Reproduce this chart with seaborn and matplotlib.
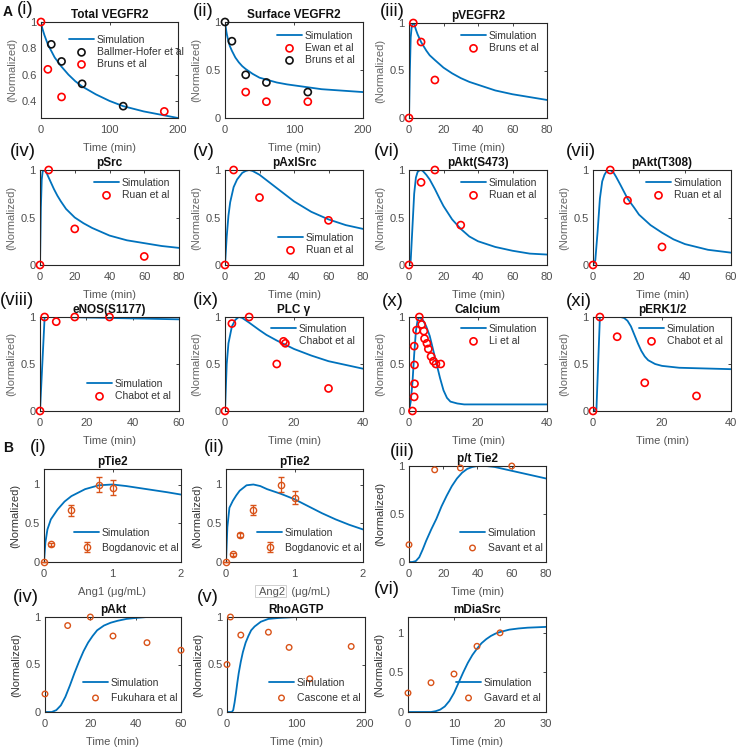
import matplotlib
matplotlib.use("Agg")
import matplotlib.pyplot as plt
import seaborn as sns
from matplotlib.patches import Rectangle
from matplotlib.ticker import FuncFormatter

# colours (MATLAB defaults)
BLUE = "#0072BD"
RED = "#FF0000"
BLACK = "#111111"
ORANGE = "#D95319"

# ---- data ----
# A(i) Total VEGFR2
tot_t = [0, 2, 5, 10, 15, 20, 30, 40, 50, 60, 80, 100, 120, 150, 180, 200]
tot_sim = [1, 0.95, 0.9, 0.83, 0.78, 0.73, 0.66, 0.6, 0.55, 0.51, 0.45, 0.4, 0.36, 0.32, 0.29, 0.27]
tot_bh_t = [15, 30, 60, 120]
tot_bh = [0.83, 0.70, 0.53, 0.36]
tot_br_t = [0, 10, 30, 180]
tot_br = [1.0, 0.64, 0.43, 0.32]

# A(ii) Surface VEGFR2
sur_t = [0, 1, 2, 3, 5, 7, 10, 15, 20, 25, 30, 40, 50, 60, 75, 90, 105, 120, 140, 160, 180, 200]
sur_sim = [1, 0.95, 0.9, 0.86, 0.8, 0.75, 0.7, 0.63, 0.58, 0.54, 0.51, 0.46, 0.42, 0.4, 0.37, 0.35,
           0.335, 0.32, 0.3, 0.29, 0.28, 0.27]
sur_ew_t = [30, 60, 120]
sur_ew = [0.27, 0.17, 0.17]
sur_br_t = [0, 10, 30, 60, 120]
sur_br = [1.0, 0.8, 0.45, 0.37, 0.27]

# A(iii) pVEGFR2
pv_t = [0, 0.5, 1, 1.5, 2, 2.5, 3, 4, 5, 7, 10, 12, 15, 20, 25, 30, 35, 40, 50, 60, 70, 80]
pv_sim = [0, 0.5, 0.85, 0.95, 0.99, 1, 0.99, 0.93, 0.88, 0.8, 0.71, 0.66, 0.61, 0.53, 0.47, 0.42,
          0.38, 0.35, 0.29, 0.25, 0.22, 0.19]
pv_d_t = [0, 2.5, 7, 15]
pv_d = [0, 1.0, 0.8, 0.4]

# A(iv) pSrc
src_t = [0, 0.5, 1, 1.5, 2, 3, 4, 5, 6, 8, 10, 12, 15, 20, 25, 30, 35, 40, 50, 60, 70, 80]
src_sim = [0, 0.6, 0.9, 0.98, 1, 0.99, 0.96, 0.92, 0.88, 0.8, 0.73, 0.67, 0.59, 0.5, 0.44, 0.39,
           0.35, 0.31, 0.26, 0.23, 0.2, 0.18]
src_d_t = [0, 5, 20, 60]
src_d = [0, 1.0, 0.38, 0.09]

# A(v) pAxlSrc
axl_t = [0, 1, 2, 3, 5, 7, 10, 12, 14, 16, 20, 25, 30, 35, 40, 50, 60, 70, 80]
axl_sim = [0, 0.3, 0.52, 0.66, 0.82, 0.9, 0.97, 0.99, 1, 0.99, 0.95, 0.88, 0.81, 0.74, 0.67, 0.56,
           0.48, 0.42, 0.38]
axl_d_t = [0, 5, 20, 60]
axl_d = [0, 1.0, 0.71, 0.47]

# A(vi) pAkt(S473)
s473_t = [0, 1, 2, 3, 4, 5, 6, 7, 8, 9, 10, 12, 15, 18, 20, 25, 30, 35, 40, 50, 60, 70, 80]
s473_sim = [0, 0.05, 0.4, 0.75, 0.92, 0.98, 0.995, 1, 0.99, 0.97, 0.95, 0.9, 0.8, 0.69, 0.62, 0.48,
            0.38, 0.3, 0.25, 0.19, 0.15, 0.12, 0.11]
s473_d_t = [0, 7, 15, 30]
s473_d = [0, 0.87, 1.0, 0.42]

# A(vii) pAkt(T308)
t308_t = [0, 1, 2, 3, 4, 5, 6, 7.5, 9, 10, 12, 15, 18, 20, 25, 30, 35, 40, 50, 60]
t308_sim = [0, 0.05, 0.35, 0.7, 0.88, 0.95, 0.99, 1, 0.97, 0.93, 0.84, 0.7, 0.6, 0.53, 0.42, 0.34,
            0.27, 0.22, 0.16, 0.13]
t308_d_t = [0, 7.5, 15, 30]
t308_d = [0, 1.0, 0.68, 0.19]

# A(viii) eNOS(S1177)
enos_t = [0, 1, 2, 5, 10, 20, 30, 40, 50, 60]
enos_sim = [0, 0.5, 1, 1, 1, 0.995, 0.99, 0.985, 0.98, 0.975]
enos_d_t = [0, 2, 7, 15, 30]
enos_d = [0, 1.0, 0.95, 1.0, 1.0]

# A(ix) PLCgamma
plc_t = [0, 0.5, 1, 2, 3, 4, 5, 7, 10, 12, 15, 20, 25, 30, 35, 40]
plc_sim = [0, 0.5, 0.72, 0.9, 0.97, 1, 0.99, 0.94, 0.86, 0.81, 0.75, 0.66, 0.59, 0.53, 0.49, 0.45]
plc_d_t = [0, 2, 7, 15, 17.5, 30]
plc_d = [0, 0.93, 1.0, 0.5, 0.72, 0.24]

# A(x) Calcium
ca_t = [0, 0.5, 1, 1.5, 2, 2.5, 3, 4, 5, 6, 7, 8, 9, 10, 11, 12, 14, 16, 20, 30, 40]
ca_sim = [0, 0.1, 0.3, 0.6, 0.85, 0.97, 1, 0.97, 0.9, 0.8, 0.65, 0.5, 0.35, 0.22, 0.14, 0.1, 0.08, 0.07,
          0.07, 0.07, 0.07]
ca_d_t = [1, 1.5, 1.6, 1.6, 1.5, 2.2, 3, 3.7, 4.3, 4.5, 5.2, 5.6, 6.4, 7.1, 7.8, 9.2]
ca_d = [0, 0.15, 0.29, 0.49, 0.69, 0.86, 1.0, 0.92, 0.85, 0.77, 0.72, 0.66, 0.58, 0.53, 0.5, 0.5]

# A(xi) pERK1/2
erk_t = [0, 1, 2, 4, 6, 8, 9, 10, 11, 12, 13, 14, 15, 16, 18, 20, 25, 30, 40]
erk_sim = [0, 0.02, 1, 1, 1, 1, 0.99, 0.96, 0.9, 0.81, 0.72, 0.64, 0.58, 0.54, 0.5, 0.48, 0.46, 0.455, 0.445]
erk_d_t = [0, 2, 7, 15, 30]
erk_d = [0, 1.0, 0.79, 0.3, 0.16]

# B(i) pTie2 vs Ang1
ang1_x = [0, 0.02, 0.05, 0.1, 0.2, 0.3, 0.4, 0.6, 0.8, 1.0, 1.2, 1.5, 1.8, 2.0]
ang1_sim = [0, 0.25, 0.42, 0.55, 0.68, 0.78, 0.85, 0.94, 0.99, 1.0, 0.98, 0.94, 0.9, 0.87]
ang1_d_x = [0, 0.1, 0.4, 0.8, 1.0]
ang1_d = [0, 0.23, 0.67, 1.0, 0.96]
ang1_err = [0, 0.02, 0.07, 0.1, 0.1]

# B(ii) pTie2 vs Ang2
ang2_x = [0, 0.02, 0.05, 0.1, 0.15, 0.2, 0.3, 0.4, 0.5, 0.6, 0.8, 1.0, 1.2, 1.4, 1.6, 1.8, 2.0]
ang2_sim = [0, 0.45, 0.7, 0.79, 0.86, 0.92, 0.99, 1.0, 0.98, 0.94, 0.88, 0.81, 0.72, 0.63, 0.55, 0.48, 0.42]
ang2_d_x = [0, 0.1, 0.2, 0.4, 0.8, 1.0]
ang2_d = [0, 0.1, 0.35, 0.67, 1.0, 0.83]
ang2_err = [0, 0.02, 0.03, 0.06, 0.1, 0.08]

# B(iii) p/t Tie2
pt_t = [0, 2, 4, 6, 8, 10, 13, 16, 19, 22, 25, 28, 31, 34, 37, 40, 45, 50, 60, 70, 80]
pt_sim = [0, 0, 0.01, 0.05, 0.13, 0.22, 0.34, 0.45, 0.58, 0.69, 0.79, 0.87, 0.93, 0.97, 0.99, 1.0,
          1.0, 0.99, 0.95, 0.91, 0.87]
pt_d_t = [0, 15, 30, 60]
pt_d = [0.18, 0.96, 0.98, 1.0]

# B(iv) pAkt
akt_t = [0, 3, 5, 7, 9, 11, 13, 15, 17, 19, 21, 23, 26, 29, 32, 36, 40, 45, 50, 60]
akt_sim = [0, 0, 0.02, 0.07, 0.16, 0.28, 0.41, 0.53, 0.64, 0.73, 0.8, 0.86, 0.91, 0.94, 0.96, 0.98,
           0.99, 1, 1, 1]
akt_d_t = [0, 10, 20, 30, 45, 60]
akt_d = [0.19, 0.91, 1.0, 0.8, 0.73, 0.65]

# B(v) RhoAGTP
rho_t = [0, 7, 9, 11, 13, 15, 17, 20, 23, 27, 31, 35, 40, 49, 60, 75, 100, 150, 200]
rho_sim = [0, 0, 0.02, 0.1, 0.2, 0.31, 0.41, 0.53, 0.63, 0.73, 0.8, 0.86, 0.9, 0.95, 0.98, 0.99, 1, 1, 1]
rho_d_t = [0, 5, 20, 60, 90, 120, 180]
rho_d = [0.5, 1.0, 0.81, 0.84, 0.68, 0.35, 0.69]

# B(vi) mDiaSrc
mdia_t = [0, 5, 6, 7, 8, 9, 10, 11, 12, 13, 14, 15, 16, 17, 18, 19, 20, 22, 24, 26, 28, 30]
mdia_sim = [0, 0, 0.01, 0.03, 0.07, 0.14, 0.24, 0.37, 0.5, 0.62, 0.72, 0.8, 0.87, 0.92, 0.96, 0.99,
            1.01, 1.04, 1.055, 1.065, 1.07, 1.075]
mdia_d_t = [0, 5, 10, 15, 20]
mdia_d = [0.24, 0.37, 0.48, 0.83, 1.0]

# ---- style ----
sns.set_theme(style="white")
plt.rcParams["font.family"] = ["Liberation Sans", "DejaVu Sans"]
plt.rcParams["axes.edgecolor"] = "#262626"
plt.rcParams["axes.linewidth"] = 0.8

W, H = 738, 749
fig = plt.figure(figsize=(W / 100, H / 100), dpi=100)
fmt = FuncFormatter(lambda v, p: f"{v:g}")


def make_ax(box):
    l, t, r, b = box
    return fig.add_axes([l / W, 1 - b / H, (r - l) / W, (b - t) / H])


def style(ax, title, xlim, ylim, xticks, yticks, xlabel="Time (min)", ylab_color="#666666"):
    ax.set_xlim(xlim)
    ax.set_ylim(ylim)
    ax.set_xticks(xticks)
    ax.set_yticks(yticks)
    ax.xaxis.set_major_formatter(fmt)
    ax.yaxis.set_major_formatter(fmt)
    ax.tick_params(direction="in", top=True, right=True, length=2.5, width=0.6,
                   color="#262626", labelsize=8, labelcolor="#4d4d4d")
    ax.tick_params(axis="x", pad=5)
    ax.tick_params(axis="y", pad=3)
    ax.set_title(title, fontsize=8.5, fontweight="bold", pad=3, color="#111111")
    ax.set_xlabel(xlabel, fontsize=8, color="#555555", labelpad=6)
    ax.set_ylabel("(Normalized)", fontsize=8, color=ylab_color, labelpad=3)


def sim(ax, t, v):
    sns.lineplot(x=t, y=v, ax=ax, color=BLUE, linewidth=1.3, label="Simulation", zorder=2)


def dots(ax, t, v, color, label, s=26, lw=1.2):
    sns.scatterplot(x=t, y=v, ax=ax, marker="o", s=s, facecolor="none", edgecolor=color,
                    linewidth=lw, label=label, zorder=3, clip_on=False)


def leg(ax, box, lx, ly, spacing=0.2):
    l, t, r, b = box
    ax.legend(loc="upper left", bbox_to_anchor=((lx - l) / (r - l), 1 - (ly - 6 - t) / (b - t)),
              frameon=False, fontsize=7.5, handlelength=2.4, handletextpad=0.25,
              labelspacing=spacing, borderpad=0, borderaxespad=0, labelcolor="#333333")


def plabel(x, y, s, size=13.5, weight="normal"):
    fig.text(x / W, 1 - y / H, s, fontsize=size, fontweight=weight, va="center", ha="left", color="#111111")


# ---- A ----
b = (41, 22, 178, 118)
ax = make_ax(b)
sim(ax, tot_t, tot_sim)
dots(ax, tot_bh_t, tot_bh, BLACK, "Ballmer-Hofer et al")
dots(ax, tot_br_t, tot_br, RED, "Bruns et al")
style(ax, "Total VEGFR2", (0, 200), (0.27, 1.0), [0, 100, 200], [0.4, 0.6, 0.8, 1])
leg(ax, b, 69, 41)

b = (225, 22, 363, 118)
ax = make_ax(b)
sim(ax, sur_t, sur_sim)
dots(ax, sur_ew_t, sur_ew, RED, "Ewan et al")
dots(ax, sur_br_t, sur_br, BLACK, "Bruns et al")
style(ax, "Surface VEGFR2", (0, 200), (0, 1), [0, 100, 200], [0, 0.5, 1])
leg(ax, b, 277, 37)

b = (409, 23, 547, 118)
ax = make_ax(b)
sim(ax, pv_t, pv_sim)
dots(ax, pv_d_t, pv_d, RED, "Bruns et al")
style(ax, "pVEGFR2", (0, 80), (0, 1), [0, 20, 40, 60, 80], [0, 0.5, 1])
leg(ax, b, 461, 37)

row2 = [
    ((40, 170, 179, 265), "pSrc", src_t, src_sim, src_d_t, src_d, "Ruan et al", (0, 80), (94, 184)),
    ((225, 170, 363, 265), "pAxlSrc", axl_t, axl_sim, axl_d_t, axl_d, "Ruan et al", (0, 80), (278, 239)),
    ((409, 170, 547, 265), "pAkt(S473)", s473_t, s473_sim, s473_d_t, s473_d, "Ruan et al", (0, 80), (461, 184)),
    ((593, 170, 731, 265), "pAkt(T308)", t308_t, t308_sim, t308_d_t, t308_d, "Ruan et al", (0, 60), (646, 184)),
    ((40, 317, 179, 411), "eNOS(S1177)", enos_t, enos_sim, enos_d_t, enos_d, "Chabot et al", (0, 60), (87, 385)),
    ((225, 317, 363, 411), "PLC γ", plc_t, plc_sim, plc_d_t, plc_d, "Chabot et al", (0, 40), (271, 330)),
    ((409, 317, 547, 411), "Calcium", ca_t, ca_sim, ca_d_t, ca_d, "Li et al", (0, 40), (461, 330)),
    ((593, 317, 731, 411), "pERK1/2", erk_t, erk_sim, erk_d_t, erk_d, "Chabot et al", (0, 40), (639, 330)),
]
for b, title, t, v, dt, dv, lab, xl, (lx, ly) in row2:
    ax = make_ax(b)
    sim(ax, t, v)
    dots(ax, dt, dv, RED, lab)
    style(ax, title, xl, (0, 1), list(range(0, xl[1] + 1, 20)), [0, 0.5, 1])
    leg(ax, b, lx, ly)

# ---- B ----
for b, x, v, dx, dv, de, xlab, lx in [
    ((44, 469, 181, 562), ang1_x, ang1_sim, ang1_d_x, ang1_d, ang1_err, "Ang1 (μg/mL)", 74),
    ((226, 469, 363, 562), ang2_x, ang2_sim, ang2_d_x, ang2_d, ang2_err, "Ang2  (μg/mL)", 257),
]:
    ax = make_ax(b)
    sim(ax, x, v)
    ax.errorbar(dx, dv, yerr=de, fmt="o", ms=4.5, mfc="none", mec=ORANGE, mew=1.0,
                ecolor=ORANGE, elinewidth=0.9, capsize=2, label="Bogdanovic et al", zorder=3, clip_on=False)
    style(ax, "pTie2", (0, 2), (0, 1.2), [0, 1, 2], [0, 0.5, 1], xlabel=xlab, ylab_color="#333333")
    leg(ax, b, lx, 534, spacing=0.45)

# faint box around "Ang2" seen in the reference
fig.patches.append(Rectangle((255 / W, 1 - 597 / H), 31 / W, 12 / H, transform=fig.transFigure,
                             fill=False, edgecolor="#c8c8c8", linewidth=0.6))

bdata = [
    ((409, 466, 546, 562), "p/t Tie2", pt_t, pt_sim, pt_d_t, pt_d, "Savant et al", (0, 80), (0, 1),
     [0, 20, 40, 60, 80], (460, 534)),
    ((45, 617, 181, 712), "pAkt", akt_t, akt_sim, akt_d_t, akt_d, "Fukuhara et al", (0, 60), (0, 1),
     [0, 20, 40, 60], (83, 684)),
    ((227, 617, 365, 712), "RhoAGTP", rho_t, rho_sim, rho_d_t, rho_d, "Cascone et al", (0, 200), (0, 1),
     [0, 100, 200], (269, 684)),
    ((408, 617, 546, 712), "mDiaSrc", mdia_t, mdia_sim, mdia_d_t, mdia_d, "Gavard et al", (0, 30), (0, 1.2),
     [0, 10, 20, 30], (456, 684)),
]
for b, title, t, v, dt, dv, lab, xl, yl, xt, (lx, ly) in bdata:
    ax = make_ax(b)
    sim(ax, t, v)
    dots(ax, dt, dv, ORANGE, lab, s=16, lw=1.0)
    style(ax, title, xl, yl, xt, [0, 0.5, 1], ylab_color="#333333")
    leg(ax, b, lx, ly, spacing=0.45)

# ---- panel labels ----
plabel(3, 12, "A", size=10, weight="bold")
plabel(17, 10, "(i)")
plabel(193, 11, "(ii)")
plabel(380, 11, "(iii)")
plabel(10, 152, "(iv)")
plabel(193, 152, "(v)")
plabel(374, 151, "(vi)")
plabel(566, 152, "(vii)")
plabel(0, 301, "(viii)")
plabel(193, 301, "(ix)")
plabel(382, 302, "(x)")
plabel(566, 302, "(xi)")
plabel(3, 448, "B", size=10, weight="bold")
plabel(30, 448, "(i)")
plabel(204, 448, "(ii)")
plabel(390, 452, "(iii)")
plabel(13, 597, "(iv)")
plabel(197, 597, "(v)")
plabel(374, 589, "(vi)")

fig.savefig("out.png", dpi=100)
